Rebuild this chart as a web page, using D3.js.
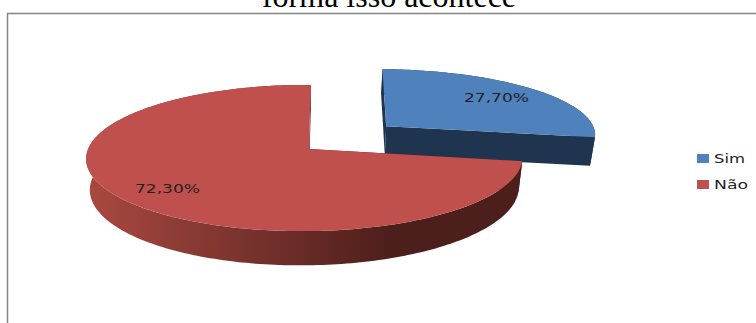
<!DOCTYPE html>
<html><head><meta charset="utf-8">
<script src="https://cdn.jsdelivr.net/npm/d3@7"></script>
<style>html,body{margin:0;padding:0;background:#fff;overflow:hidden}svg{display:block}</style>
</head><body><svg id="c" width="756" height="323"></svg>
<script>
const categories = ["Sim", "Não"];
const values = [27.7, 72.3];
const labels = ["27,70%", "72,30%"];
const topColors = ["#4f81bd", "#c0504d"];
const wallColors = ["#1f344e", "#4d1f1c"];
const titleText = "forma isso acontece";

const svg = d3.select("#c");
const W = 756, H = 323;

// perspective projection of the pie disc
const apexX = 309, apexY = 149, scaleX = 216.5, scaleY = 72, kY = 0.123, kX = 0.02;
const depth = 30, squeeze = 0.983, squeezeAt = 305;
const explodeX = [0.366, 0], explodeY = [0.333, 0];
const radiusX = [1.03, 1], radiusY = [0.96, 1], shear = [5, 2];
const project = (x, y, i) => {
  const w = 1 + kY * y + kX * x;
  return [apexX + scaleX * x / w + shear[i] * y / w, apexY - scaleY * y / w];
};
const lower = ([px, py], x, y) => {
  const w = 1 + kY * y + kX * x;
  return [squeezeAt + (px - squeezeAt) * squeeze, py + depth / w];
};

const pie = d3.pie().sort(null).value(d => d);
const arcs = pie(values);
const line = d3.line();

const defs = svg.append("defs");
const grad = defs.append("linearGradient").attr("id", "redWall")
  .attr("gradientUnits", "userSpaceOnUse").attr("x1", 90).attr("x2", 390).attr("y1", 0).attr("y2", 0);
grad.append("stop").attr("offset", 0).attr("stop-color", "#a84840");
grad.append("stop").attr("offset", 1).attr("stop-color", "#4d1f1c");

// frame and title
svg.append("path").attr("d", `M7.5,${H}V13.5H${W}`).attr("fill", "none").attr("stroke", "#858585").attr("stroke-width", 1.5);
svg.append("text").attr("x", 389).attr("y", 7).attr("text-anchor", "middle")
  .attr("font-family", "Liberation Serif").attr("font-size", 32).attr("fill", "#000").text(titleText);

// slices
const sliceGeom = arcs.map((a, i) => {
  const n = Math.ceil((a.endAngle - a.startAngle) / 0.02);
  const model = d3.range(n + 1).map(j => {
    const t = a.startAngle + (a.endAngle - a.startAngle) * j / n;
    return [explodeX[i] + radiusX[i] * Math.sin(t), explodeY[i] + radiusY[i] * Math.cos(t)];
  });
  const apexModel = [explodeX[i], explodeY[i]];
  const up = ([x, y]) => project(x, y, i);
  const low = ([x, y]) => lower(project(x, y, i), x, y);
  return {
    top: [up(apexModel), ...model.map(up)],
    rim: model.map(up),
    rimLow: model.map(low),
    apexTop: up(apexModel),
    apexLow: low(apexModel),
    first: [up(model[0]), low(model[0])],
    last: [up(model[n]), low(model[n])]
  };
});

[0, 1].forEach(i => {
  const g = sliceGeom[i];
  const fill = i === 1 ? "url(#redWall)" : wallColors[i];
  const groupEl = svg.append("g").attr("class", "slice-" + categories[i]);
  groupEl.append("path").attr("fill", wallColors[i])
    .attr("d", line([g.apexTop, g.first[0], g.first[1], g.apexLow]) + "Z");
  groupEl.append("path").attr("fill", wallColors[i])
    .attr("d", line([g.apexTop, g.last[0], g.last[1], g.apexLow]) + "Z");
  groupEl.append("path").attr("fill", fill)
    .attr("d", line([...g.rim, ...g.rimLow.slice().reverse()]) + "Z");
  groupEl.append("path").attr("fill", topColors[i]).attr("d", line(g.top) + "Z");
});

// data labels
const labelFont = "DejaVu Sans";
const labelPos = [[464, 102], [135, 193]];
labels.forEach((t, i) => {
  svg.append("text").attr("x", labelPos[i][0]).attr("y", labelPos[i][1])
    .attr("font-family", labelFont).attr("font-size", 13).attr("fill", "#222")
    .attr("textLength", 65).attr("lengthAdjust", "spacingAndGlyphs").text(t);
});

// legend
const legendY = d3.scalePoint().domain(categories).range([163, 189]);
const legendW = [31, 34];
categories.forEach((c, i) => {
  svg.append("rect").attr("x", 697).attr("y", legendY(c) - 9).attr("width", 12).attr("height", 9).attr("fill", topColors[i]);
  svg.append("text").attr("x", 714).attr("y", legendY(c))
    .attr("font-family", labelFont).attr("font-size", 13).attr("fill", "#222")
    .attr("textLength", legendW[i]).attr("lengthAdjust", "spacingAndGlyphs").text(c);
});
</script></body></html>
